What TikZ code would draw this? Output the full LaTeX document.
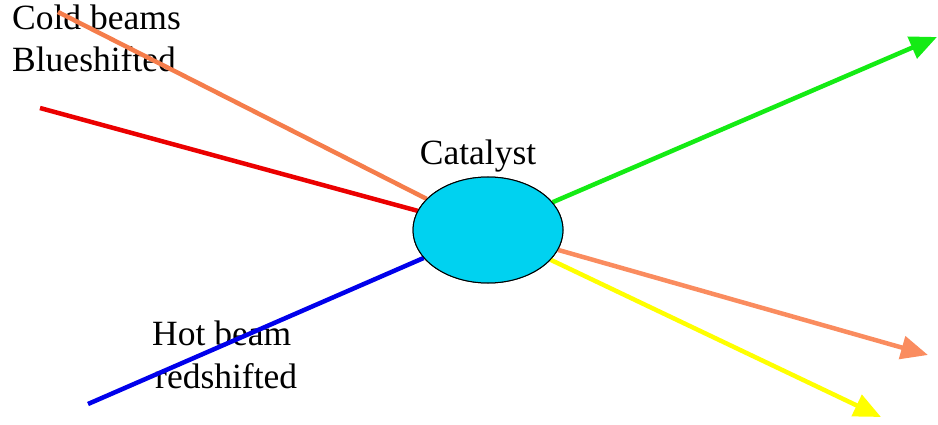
\documentclass[tikz,border=0pt]{standalone}
\usepackage{fontspec}
\setmainfont{Liberation Serif}
\usetikzlibrary{shapes.geometric,arrows.meta}
\definecolor{beamorange}{RGB}{245,125,75}
\definecolor{outorange}{RGB}{250,140,95}
\definecolor{beamred}{RGB}{235,0,0}
\definecolor{beamblue}{RGB}{0,0,235}
\definecolor{beamgreen}{RGB}{20,235,20}
\definecolor{beamyellow}{RGB}{255,255,0}
\definecolor{catcyan}{RGB}{0,210,240}
\tikzset{
  lbl/.style={anchor=base west, inner sep=0pt, font=\fontsize{35.5}{42}\selectfont},
  beam/.style={line width=4.5pt},
  outbeam/.style={line width=4.5pt, -{Triangle[length=27pt,width=23pt]}},
  cat/.style={ellipse, draw=black, line width=1pt, fill=catcyan,
    minimum width=150pt, minimum height=106pt, inner sep=0pt}
}
\begin{document}
\begin{tikzpicture}[x=1pt,y=-1pt]
\useasboundingbox (0,0) rectangle (938,425);
% labels
\node[lbl] (cold1) at (12,30) {Cold beams};
\node[lbl] (cold2) at (12,72) {Blueshifted};
\node[lbl] (hot1) at (152,345) {Hot beam};
\node[lbl] (hot2) at (155,388) {redshifted};
\node[lbl, anchor=base] (catlbl) at (478,165) {Catalyst};
% catalyst position
\coordinate (catc) at (488,230);
\node[cat] (cat) at (catc) {};
% free ends
\coordinate (inO) at (58,12);
\coordinate (inR) at (40,108);
\coordinate (inB) at (88,404);
\coordinate (outG) at (937,37);
\coordinate (outO) at (928,355);
\coordinate (outY) at (881,417);
% beams
\draw[beam, beamorange] (inO) -- (cat);
\draw[beam, beamred] (inR) -- (cat);
\draw[beam, beamblue] (inB) -- (cat);
\draw[outbeam, beamgreen] (cat) -- (outG);
\draw[outbeam, outorange] (cat) -- (outO);
\draw[outbeam, beamyellow] (cat) -- (outY);
% redraw catalyst over beam ends
\node[cat] (cattop) at (catc) {};
\end{tikzpicture}
\end{document}
